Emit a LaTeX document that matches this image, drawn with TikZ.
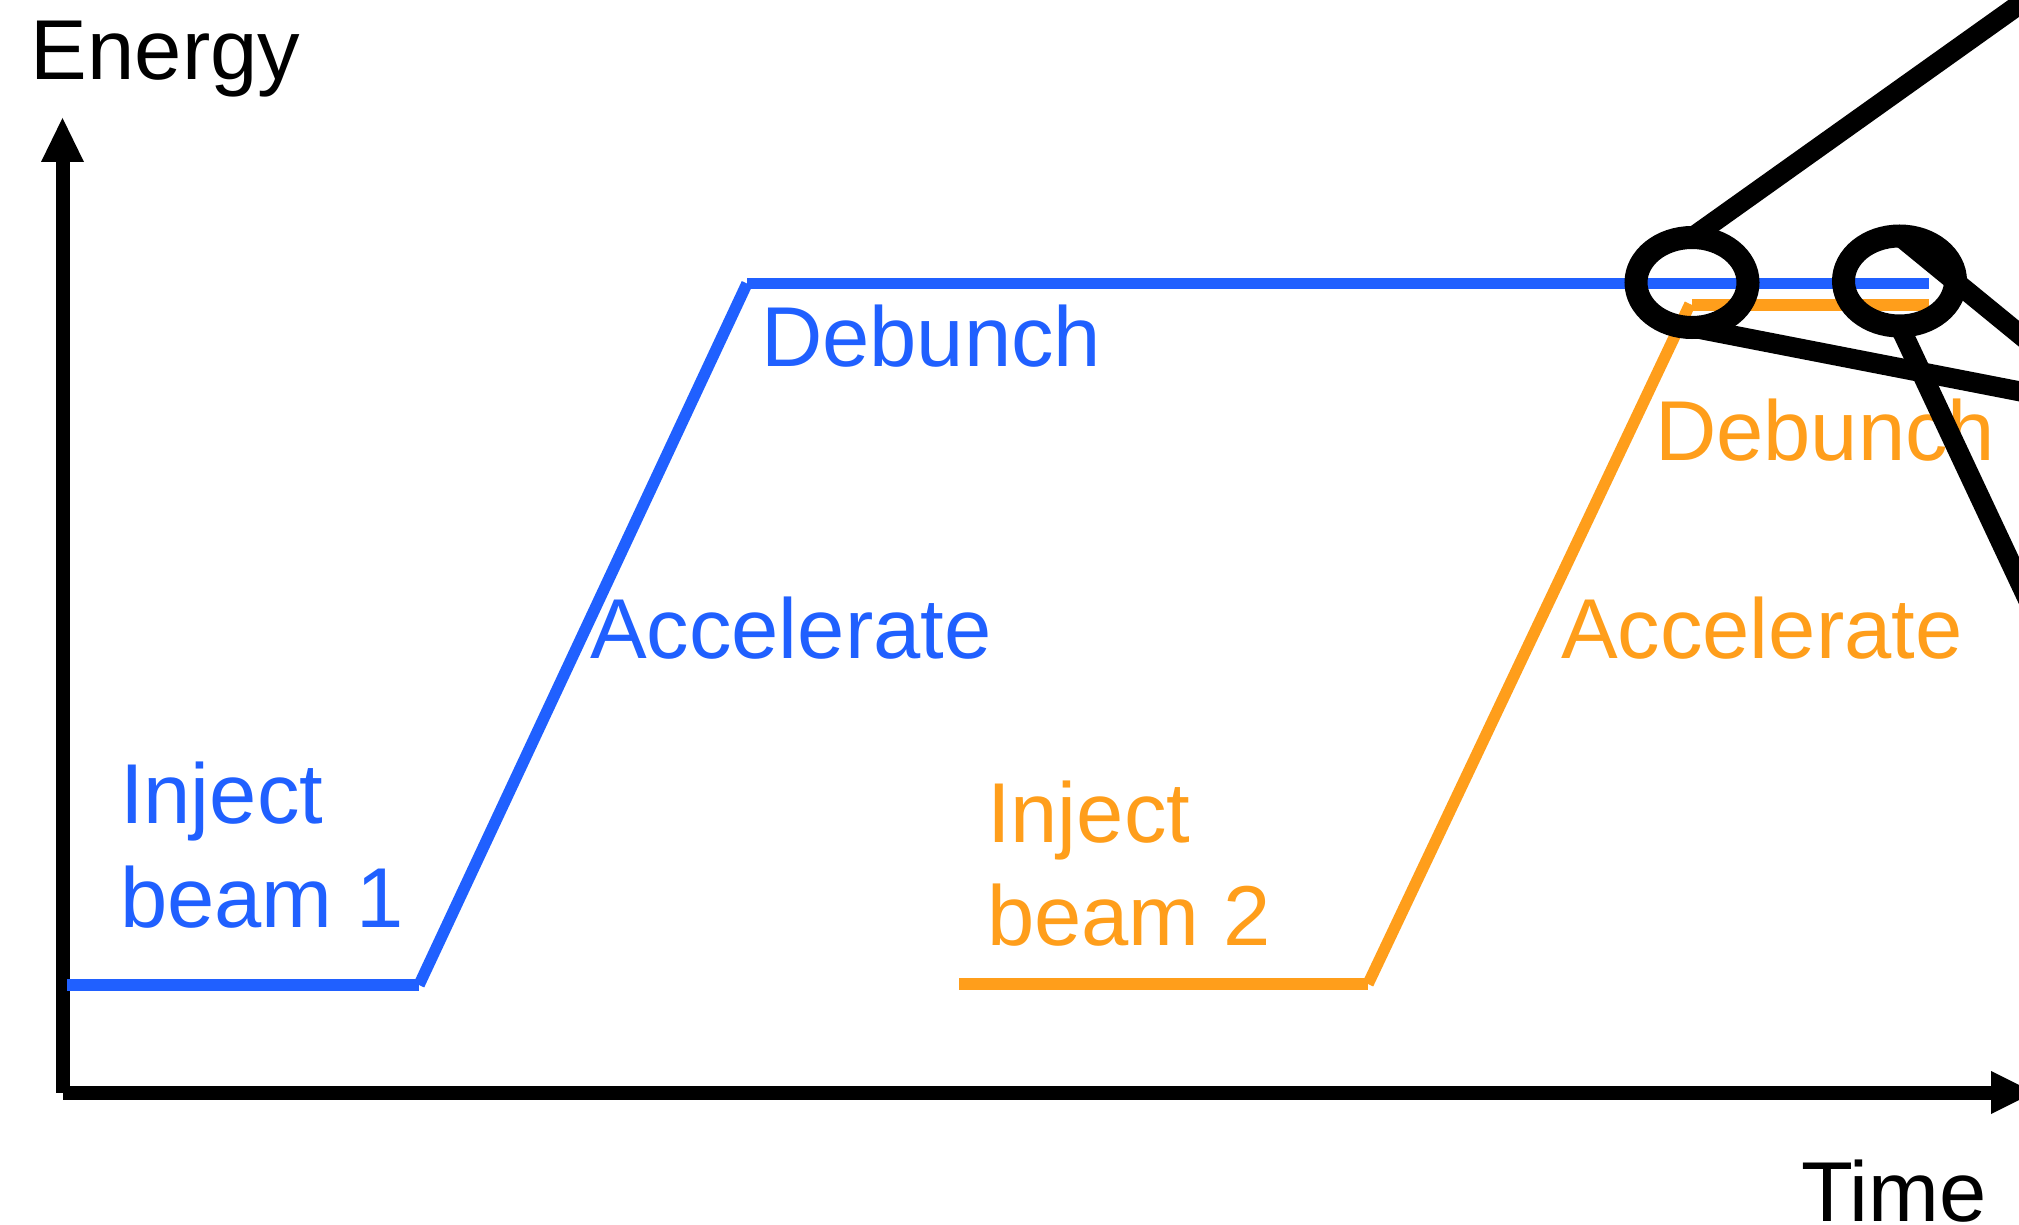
\documentclass[tikz,border=0pt]{standalone}
\usepackage{fontspec}
\setmainfont{Liberation Sans}
\usetikzlibrary{shapes.geometric}
\definecolor{beamblue}{RGB}{32,96,255}
\definecolor{beamorange}{RGB}{255,158,27}
\begin{document}
\begin{tikzpicture}[x=0.5pt,y=-0.5pt,
  axisline/.style={line width=7pt,black,line cap=butt},
  beam/.style={line width=5.75pt,line cap=butt},
  lbl/.style={anchor=base west,inner sep=0pt,outer sep=0pt,font=\fontsize{42.5pt}{52pt}\selectfont},
  loupe/.style={ellipse,draw=black,line width=11.5pt,minimum width=56pt,minimum height=45pt,inner sep=0pt,outer sep=0pt},
  zoomline/.style={line width=10pt,black,line cap=butt}]
\useasboundingbox (0,0) rectangle (2019,1225);
\clip (0,0) rectangle (2019,1225);
% axes
\coordinate (origin) at (63,1092.5);
\coordinate (ybase) at (63,161);
\coordinate (xbase) at (1991,1092.5);
\draw[axisline] (origin) -- (ybase);
\fill (41,162) -- (84,162) -- (62.5,118) -- cycle;
\draw[axisline] (origin) -- (xbase);
\fill (1991,1071) -- (1991,1114) -- (2034,1092.5) -- cycle;
% blue beam
\coordinate (b0) at (67,985);
\coordinate (b1) at (419,985);
\coordinate (b2) at (747,283.5);
\coordinate (b3) at (1929,283.5);
\draw[beam,beamblue] (b0) -- (b1);
\draw[beam,beamblue] (b1) -- (b2);
\draw[beam,beamblue] (b2) -- (b3);
% orange beam
\coordinate (o0) at (959,984);
\coordinate (o1) at (1368,984);
\coordinate (o2) at (1690,304);
\coordinate (o2b) at (1692,305);
\coordinate (o3) at (1929,305);
\draw[beam,beamorange] (o0) -- (o1);
\draw[beam,beamorange] (o1) -- (o2);
\draw[beam,beamorange] (o2b) -- (o3);
% labels
\node[lbl] (energy) at (31,80) {Energy};
\node[lbl] (time) at (1801,1221) {Time};
\node[lbl,text=beamblue] (deb1) at (761,366) {Debunch};
\node[lbl,text=beamblue] (acc1) at (590,658) {Accelerate};
\node[lbl,text=beamblue] (inj1) at (120,823) {Inject};
\node[lbl,text=beamblue] (bm1) at (120,927) {beam 1};
\node[lbl,text=beamorange] (inj2) at (987,842) {Inject};
\node[lbl,text=beamorange] (bm2) at (987,945) {beam 2};
\node[lbl,text=beamorange] (deb2) at (1655,460) {Debunch};
\node[lbl,text=beamorange] (acc2) at (1561,658) {Accelerate};
% loupes
\node[loupe] (e1) at (1692,282.5) {};
\node[loupe] (e2) at (1899.5,281) {};
\coordinate (aEnd) at (2100,-53);
\coordinate (bEnd) at (2100,407);
\coordinate (cEnd) at (2100,400);
\coordinate (dEnd) at (2075,700);
\draw[zoomline] (e1.north) -- (aEnd);
\draw[zoomline] (e1.south) -- (bEnd);
\draw[zoomline] (e2.north) -- (cEnd);
\draw[zoomline] (e2.south) -- (dEnd);
\end{tikzpicture}
\end{document}
